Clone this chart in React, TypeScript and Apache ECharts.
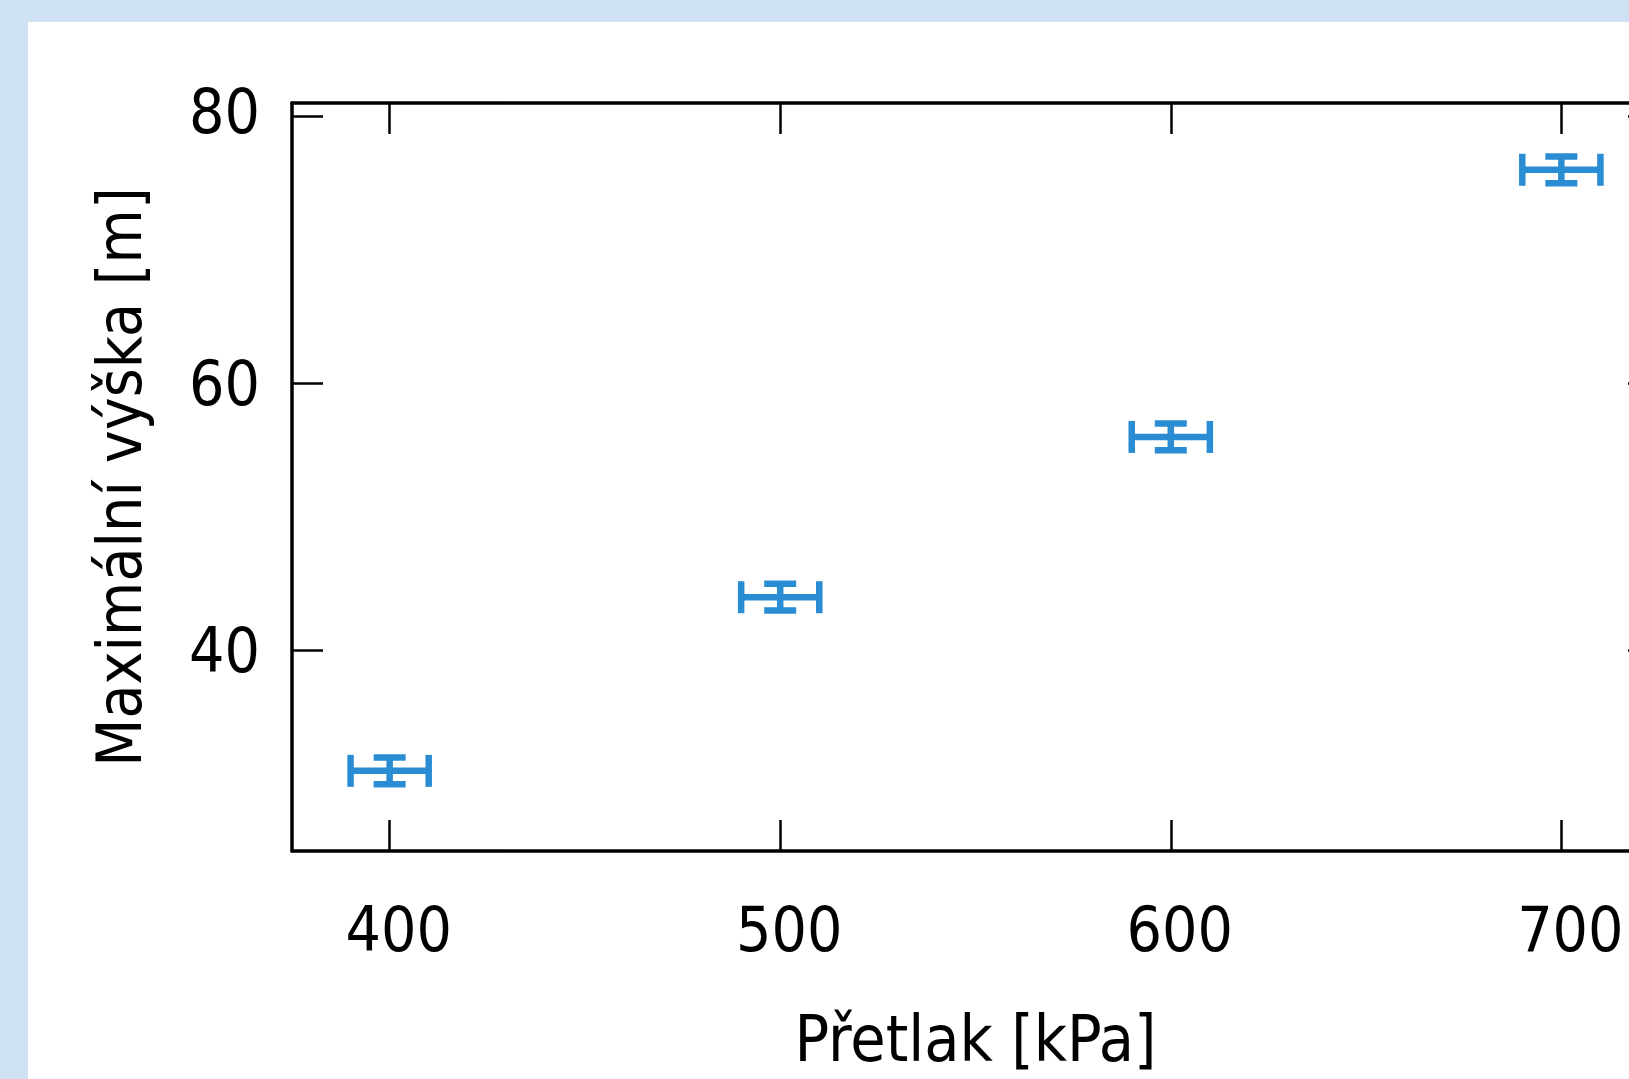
import React, { useEffect, useRef } from "react";
import * as echarts from "echarts";

const pressures = [400, 500, 600, 700];
const heights = [31, 44, 56, 76];
const pressureErr = [10, 10, 10, 10];
const heightErr = [1, 1, 1, 1];
const xTicks = [400, 500, 600, 700];
const yTicks = [40, 60, 80];
const xName = "Přetlak [kPa]";
const yName = "Maximální výška [m]";

const FONT = "'DejaVu Sans Condensed', 'Noto Sans', sans-serif";
const BLUE = "#2a8dd4";

export default function App() {
  const ref = useRef<HTMLDivElement>(null);
  useEffect(() => {
    if (!ref.current) return;
    const chart = echarts.init(ref.current, null, { renderer: "svg" });
    const data = pressures.map((p, i) => [p, heights[i], pressureErr[i], heightErr[i]]);
    const axisLine = { show: true, lineStyle: { color: "#000", width: 3.5 } };
    const tickStyle = { color: "#000", width: 2.5 };
    const yMaxTick = Math.max(...yTicks);
    chart.setOption({
      animation: false,
      backgroundColor: "#cfe2f3",
      graphic: [
        {
          type: "rect",
          z: -10,
          silent: true,
          shape: { x: 28, y: 22, width: 1700, height: 1100 },
          style: { fill: "#ffffff" },
        },
      ],
      grid: {
        left: 292,
        top: 103,
        width: 1367,
        height: 748,
        containLabel: false,
        outerBoundsMode: "none",
      },
      xAxis: [
        {
          type: "value",
          position: "bottom",
          min: 375,
          max: 725,
          axisLine,
          axisTick: { show: true, inside: true, length: 31, customValues: xTicks, lineStyle: tickStyle },
          axisLabel: {
            show: true,
            customValues: xTicks,
            fontSize: 62,
            fontFamily: FONT,
            color: "#000",
            margin: 47,
            padding: [0, 0, 0, 18],
          },
          splitLine: { show: false },
          name: xName,
          nameLocation: "middle",
          nameGap: 156,
          nameTextStyle: { fontSize: 64, lineHeight: 64, fontFamily: FONT, color: "#000" },
        },
        {
          type: "value",
          position: "top",
          min: 375,
          max: 725,
          axisLine,
          axisTick: { show: true, inside: true, length: 31, customValues: xTicks, lineStyle: tickStyle },
          axisLabel: { show: false },
          splitLine: { show: false },
        },
      ],
      yAxis: [
        {
          type: "value",
          position: "left",
          min: 25,
          max: 81,
          axisLine,
          axisTick: { show: true, inside: true, length: 31, customValues: yTicks, lineStyle: tickStyle },
          axisLabel: {
            show: true,
            customValues: yTicks,
            fontSize: 62,
            fontFamily: FONT,
            color: "#000",
            margin: 32,
            formatter: (v: number) => (v === yMaxTick ? "{top|" + v + "}" : "" + v),
            rich: {
              top: { fontSize: 62, fontFamily: FONT, color: "#000", padding: [0, 0, 10, 0] },
            },
          },
          splitLine: { show: false },
          name: yName,
          nameLocation: "middle",
          nameGap: 142,
          nameTextStyle: { fontSize: 62, fontFamily: FONT, color: "#000" },
        },
        {
          type: "value",
          position: "right",
          min: 25,
          max: 81,
          axisLine,
          axisTick: { show: true, inside: true, length: 31, customValues: yTicks, lineStyle: tickStyle },
          axisLabel: { show: false },
          splitLine: { show: false },
        },
      ],
      series: [
        {
          type: "custom",
          xAxisIndex: 0,
          yAxisIndex: 0,
          data,
          encode: { x: 0, y: 1 },
          renderItem: (params: any, api: any) => {
            const x = api.value(0);
            const y = api.value(1);
            const dx = api.value(2);
            const dy = api.value(3);
            const c = api.coord([x, y]);
            const l = api.coord([x - dx, y]);
            const r = api.coord([x + dx, y]);
            const t = api.coord([x, y + dy]);
            const b = api.coord([x, y - dy]);
            const style = { stroke: BLUE, lineWidth: 6.5, lineCap: "butt" };
            const cap = 16;
            const ln = (x1: number, y1: number, x2: number, y2: number) => ({
              type: "line",
              shape: { x1, y1, x2, y2 },
              style,
            });
            return {
              type: "group",
              children: [
                ln(l[0], c[1], r[0], c[1]),
                ln(l[0], c[1] - cap, l[0], c[1] + cap),
                ln(r[0], c[1] - cap, r[0], c[1] + cap),
                ln(c[0], t[1], c[0], b[1]),
                ln(c[0] - cap, t[1], c[0] + cap, t[1]),
                ln(c[0] - cap, b[1], c[0] + cap, b[1]),
              ],
            };
          },
        },
      ],
    });
    return () => chart.dispose();
  }, []);
  return (
    <div
      ref={ref}
      style={{ position: "absolute", left: 0, top: 0, width: 1629, height: 1079 }}
    />
  );
}
